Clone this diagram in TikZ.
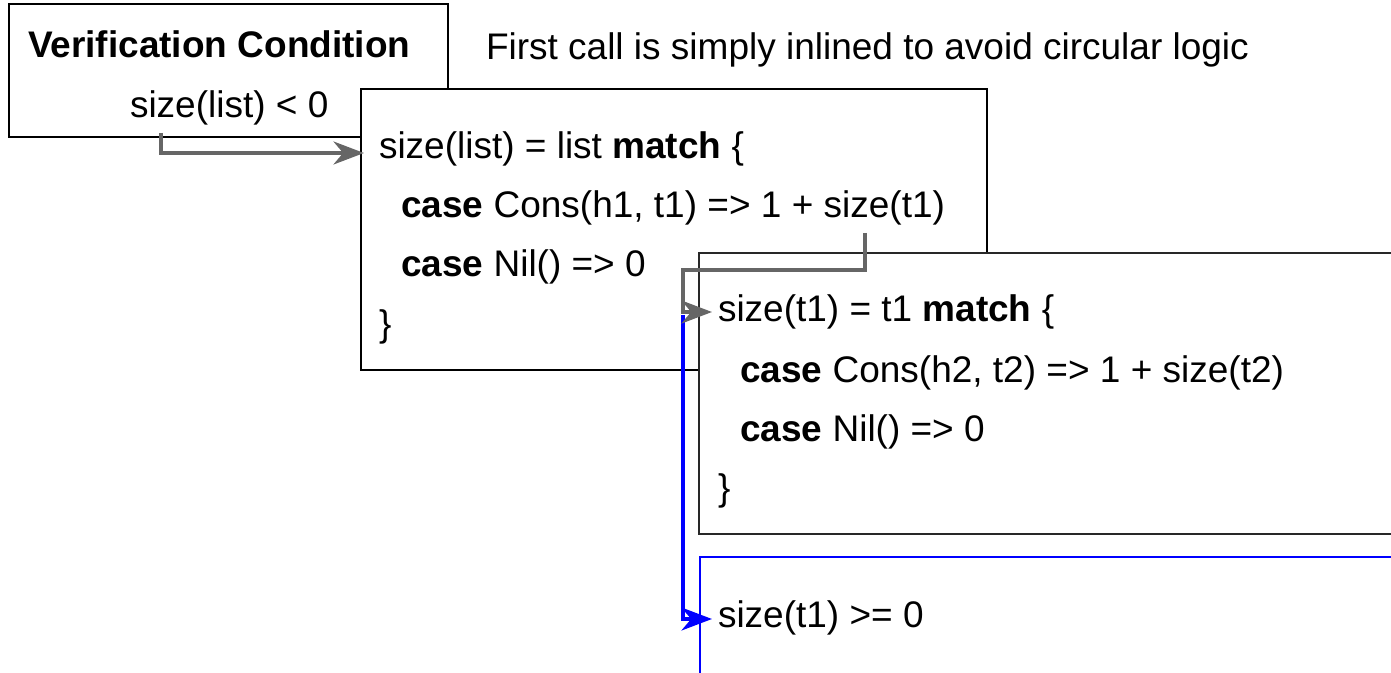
\documentclass[tikz,border=0pt]{standalone}
\usepackage{fontspec}
\setmainfont{Liberation Sans}
\usetikzlibrary{arrows.meta}
\definecolor{arrowgray}{RGB}{102,102,102}
\definecolor{boxgray}{RGB}{40,40,40}
\definecolor{vblue}{RGB}{0,0,255}
\begin{document}
\begin{tikzpicture}[x=0.75pt,y=-0.75pt,
  box/.style={rectangle, draw=black, line width=1.5pt, fill=white, inner sep=0pt, outer sep=0pt, anchor=north west},
  txt/.style={inner sep=0pt, outer sep=0pt, anchor=base west, font=\fontsize{27.75}{33}\selectfont},
  tipshape/.style={-{Stealth[length=8mm,width=6mm,inset=2.5mm]}},
  garrow/.style={draw=arrowgray, line width=3.3pt, tipshape},
  barrow/.style={draw=vblue, line width=3.3pt, tipshape}]
\useasboundingbox (0,0) rectangle (1391,673);
\clip (0,0) rectangle (1391,673);
% boxes
\node[box, minimum width=329.25pt, minimum height=99.75pt] (vc) at (9,4) {};
\node[box, minimum width=469.5pt, minimum height=210.75pt] (b2) at (361,89) {};
\node[box, draw=boxgray, minimum width=540pt, minimum height=210.75pt] (b3) at (699,253) {};
\node[box, draw=vblue, line width=1.25pt, minimum width=540pt, minimum height=150pt] (b4) at (700,557) {};
% texts
\node[txt] (vct) at (28,58) {\textbf{Verification Condition}};
\node[txt] (vcs) at (130,118) {size(list) < 0};
\node[txt] (note) at (486,60) {First call is simply inlined to avoid circular logic};
\node[txt] (b2l1) at (379,159) {size(list) = list \textbf{match} \{};
\node[txt] (b2l2) at (401,218) {\textbf{case} Cons(h1, t1) => 1 + size(t1)};
\node[txt] (b2l3) at (401,277) {\textbf{case} Nil() => 0};
\node[txt] (b2l4) at (379,336) {\}};
\node[txt] (b3l1) at (718,322) {size(t1) = t1 \textbf{match} \{};
\node[txt] (b3l2) at (740,382) {\textbf{case} Cons(h2, t2) => 1 + size(t2)};
\node[txt] (b3l3) at (740,441) {\textbf{case} Nil() => 0};
\node[txt] (b3l4) at (718,500) {\}};
\node[txt] (b4l1) at (718,627) {size(t1) >= 0};
% connector points
\coordinate (s1) at (161,133);
\coordinate (e1) at (364,153);
\coordinate (s2) at (865,233);
\coordinate (k2) at (683,270);
\coordinate (e2) at (712,312);
\coordinate (s3) at (683,315);
\coordinate (e3) at (712,619);
% connectors
\draw[barrow] (s3) |- (e3);
\draw[garrow] (s1) |- (e1);
\draw[garrow] (s2) |- (k2) |- (e2);
\end{tikzpicture}
\end{document}
